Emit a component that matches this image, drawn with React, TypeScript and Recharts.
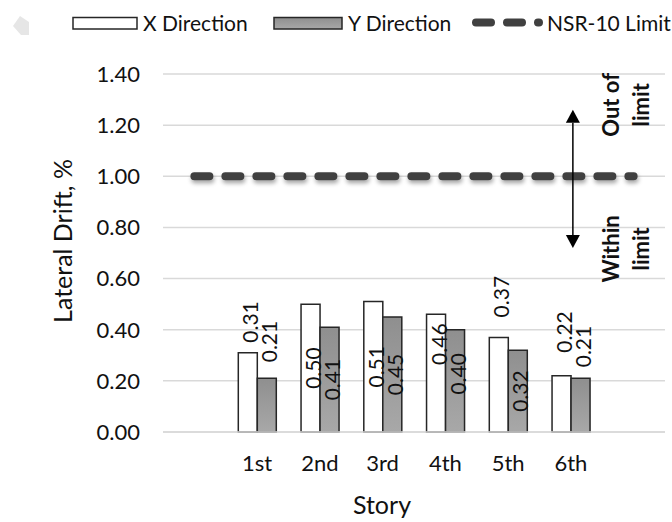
import React from "react"
import {
  ComposedChart,
  Bar,
  Line,
  XAxis,
  YAxis,
  CartesianGrid,
  LabelList,
  ReferenceLine,
} from "recharts"

// stories (blank slots at both ends give the limit line its run-out)
const STORIES = ["", "1st", "2nd", "3rd", "4th", "5th", "6th", " "]
const X_DRIFT = [null, 0.31, 0.5, 0.51, 0.46, 0.37, 0.22, null]
const Y_DRIFT = [null, 0.21, 0.41, 0.45, 0.4, 0.32, 0.21, null]
const NSR10_LIMIT = [1, 1, 1, 1, 1, 1, 1, 1]
const Y_TICKS = [0, 0.2, 0.4, 0.6, 0.8, 1.0, 1.2, 1.4]
const SERIES_NAMES = ["X Direction", "Y Direction", "NSR-10 Limit"]
// vertical double arrow beside the limit line, in drift %
const ARROW_SPAN = [0.72, 1.26]

// where each bar's value label sits: above the bar or centred in it
const X_LABEL_SPOT: any[] = [
  null,
  { at: "top", gap: 10 },
  { at: "mid", shift: 0 },
  { at: "mid", shift: 0 },
  { at: "mid", shift: -29 },
  { at: "top", gap: 20 },
  { at: "top", gap: 23 },
  null,
]
const Y_LABEL_SPOT: any[] = [
  null,
  { at: "top", gap: 16 },
  { at: "mid", shift: 0 },
  { at: "mid", shift: 0 },
  { at: "mid", shift: -7 },
  { at: "mid", shift: 0 },
  { at: "top", gap: 11 },
  null,
]

const FONT = "Lato, 'Open Sans', sans-serif"
const INK = "#111"
const EDGE = "#262626"
const LIMIT_COLOR = "#404040"

const rows = STORIES.map((story, i) => ({
  story,
  x: X_DRIFT[i],
  y: Y_DRIFT[i],
  limit: NSR10_LIMIT[i],
}))

const valueLabel = (key: "x" | "y", spots: any[]) => (props: any) => {
  const idx = STORIES.indexOf(props.value)
  const val = idx >= 0 ? rows[idx][key] : null
  const spot = idx >= 0 ? spots[idx] : null
  if (val == null || !spot) return null
  const vb = props.viewBox || props
  const cx = vb.x + vb.width / 2 + 2
  const top = Math.min(vb.y, vb.y + vb.height)
  const h = Math.abs(vb.height)
  const cy = spot.at === "top" ? top - spot.gap : top + h / 2 + spot.shift
  return (
    <text
      x={cx}
      y={cy}
      transform={`rotate(-90 ${cx} ${cy})`}
      textAnchor={spot.at === "top" ? "start" : "middle"}
      dominantBaseline="central"
      fontFamily={FONT}
      fontSize={21}
      fill={INK}
    >
      {val.toFixed(2)}
    </text>
  )
}

const YTitle = (props: any) => {
  const vb = props.viewBox
  const cx = 62
  const cy = vb.y + vb.height / 2 - 12
  return (
    <text
      x={cx}
      y={cy}
      transform={`rotate(-90 ${cx} ${cy})`}
      textAnchor="middle"
      dominantBaseline="central"
      fontFamily={FONT}
      fontSize={25}
      fill={INK}
    >
      Lateral Drift, %
    </text>
  )
}

const XTitle = (props: any) => {
  const vb = props.viewBox
  return (
    <text
      x={vb.x + vb.width / 2 - 32}
      y={vb.y + 82}
      textAnchor="middle"
      fontFamily={FONT}
      fontSize={25}
      fill={INK}
    >
      Story
    </text>
  )
}

const rotLines = (x: number, y: number, lines: string[]) =>
  lines.map((t, i) => {
    const lx = x + i * 30
    return (
      <text
        key={t + i}
        x={lx}
        y={y}
        transform={`rotate(-90 ${lx} ${y})`}
        textAnchor="middle"
        dominantBaseline="central"
        fontFamily={FONT}
        fontWeight={700}
        fontSize={22}
        fill={INK}
      >
        {t}
      </text>
    )
  })

const LimitArrow = (props: any) => {
  const x = props.x1 + 2
  const yTop = Math.min(props.y1, props.y2)
  const yBot = Math.max(props.y1, props.y2)
  const head = 13
  return (
    <g>
      <line x1={x} x2={x} y1={yTop + head} y2={yBot - head} stroke="#000" strokeWidth={1.5} />
      <polygon points={`${x},${yTop} ${x - 7},${yTop + head} ${x + 7},${yTop + head}`} fill="#000" />
      <polygon points={`${x},${yBot} ${x - 7},${yBot - head} ${x + 7},${yBot - head}`} fill="#000" />
      {rotLines(x + 38, yTop - 5, ["Out of", "limit"])}
      {rotLines(x + 38, yBot + 1, ["Within", "limit"])}
    </g>
  )
}

const LegendRow = () => (
  <svg width={672} height={45} style={{ position: "absolute", left: 0, top: 0 }}>
    <defs>
      <linearGradient id="legendGray" x1="0" y1="0" x2="0" y2="1">
        <stop offset="0%" stopColor="#8f8f8f" />
        <stop offset="100%" stopColor="#a8a8a8" />
      </linearGradient>
    </defs>
    <path d="M13,26 L20,16 L29,22 L29,35 L21,35 Z" fill="#e6e6e6" />
    <rect x={73} y={17.5} width={64} height={11.5} fill="#fff" stroke={EDGE} strokeWidth={1.5} />
    <text x={143} y={31} fontFamily={FONT} fontSize={21} fill={INK}>
      {SERIES_NAMES[0]}
    </text>
    <rect x={274} y={17.5} width={68} height={11.5} fill="url(#legendGray)" stroke={EDGE} strokeWidth={1.5} />
    <text x={348} y={31} fontFamily={FONT} fontSize={21} fill={INK}>
      {SERIES_NAMES[1]}
    </text>
    <line
      x1={476}
      x2={539}
      y1={22.5}
      y2={22.5}
      stroke={LIMIT_COLOR}
      strokeWidth={8}
      strokeDasharray="15 16"
      strokeLinecap="round"
    />
    <text x={547} y={31} fontFamily={FONT} fontSize={21} fill={INK}>
      {SERIES_NAMES[2]}
    </text>
  </svg>
)

export default function App() {
  const tick = { fill: INK, fontSize: 22, fontFamily: FONT }
  return (
    <div
      style={{
        position: "absolute",
        left: 0,
        top: 0,
        width: 672,
        height: 522,
        background: "#fff",
      }}
    >
      <ComposedChart
        width={672}
        height={522}
        data={rows}
        margin={{ top: 74, right: 7, bottom: 0, left: 0 }}
        barCategoryGap="20%"
        barGap={0}
      >
        <defs>
          <linearGradient id="yFill" x1="0" y1="0" x2="0" y2="1">
            <stop offset="0%" stopColor="#8f8f8f" />
            <stop offset="100%" stopColor="#a8a8a8" />
          </linearGradient>
          <filter id="limitShadow" filterUnits="userSpaceOnUse" x="0" y="0" width="672" height="522">
            <feDropShadow dx="1" dy="3" stdDeviation="2" floodColor="#000" floodOpacity="0.35" />
          </filter>
        </defs>
        <CartesianGrid vertical={false} stroke="#d9d9d9" strokeWidth={1.5} />
        <XAxis
          dataKey="story"
          height={90}
          interval={0}
          tickSize={0}
          tickMargin={23}
          tickLine={false}
          axisLine={{ stroke: "#d9d9d9", strokeWidth: 1.5 }}
          tick={tick}
          label={<XTitle />}
        />
        <YAxis
          width={163}
          domain={[0, 1.4]}
          ticks={Y_TICKS}
          tickFormatter={(v: number) => v.toFixed(2)}
          axisLine={false}
          tickLine={false}
          tickSize={0}
          tickMargin={23}
          tick={tick}
          label={<YTitle />}
        />
        <Bar
          dataKey="x"
          name={SERIES_NAMES[0]}
          fill="#fff"
          stroke={EDGE}
          strokeWidth={1.5}
          isAnimationActive={false}
        >
          <LabelList dataKey={(r: any) => r.story} content={valueLabel("x", X_LABEL_SPOT)} />
        </Bar>
        <Bar
          dataKey="y"
          name={SERIES_NAMES[1]}
          fill="url(#yFill)"
          stroke={EDGE}
          strokeWidth={1.5}
          isAnimationActive={false}
        >
          <LabelList dataKey={(r: any) => r.story} content={valueLabel("y", Y_LABEL_SPOT)} />
        </Bar>
        <Line
          dataKey="limit"
          name={SERIES_NAMES[2]}
          type="linear"
          stroke={LIMIT_COLOR}
          strokeWidth={8}
          strokeDasharray="15 16"
          strokeLinecap="round"
          filter="url(#limitShadow)"
          dot={false}
          activeDot={false}
          isAnimationActive={false}
        />
        <ReferenceLine
          segment={[
            { x: "6th", y: ARROW_SPAN[1] },
            { x: "6th", y: ARROW_SPAN[0] },
          ]}
          shape={<LimitArrow />}
        />
      </ComposedChart>
      <LegendRow />
    </div>
  )
}
